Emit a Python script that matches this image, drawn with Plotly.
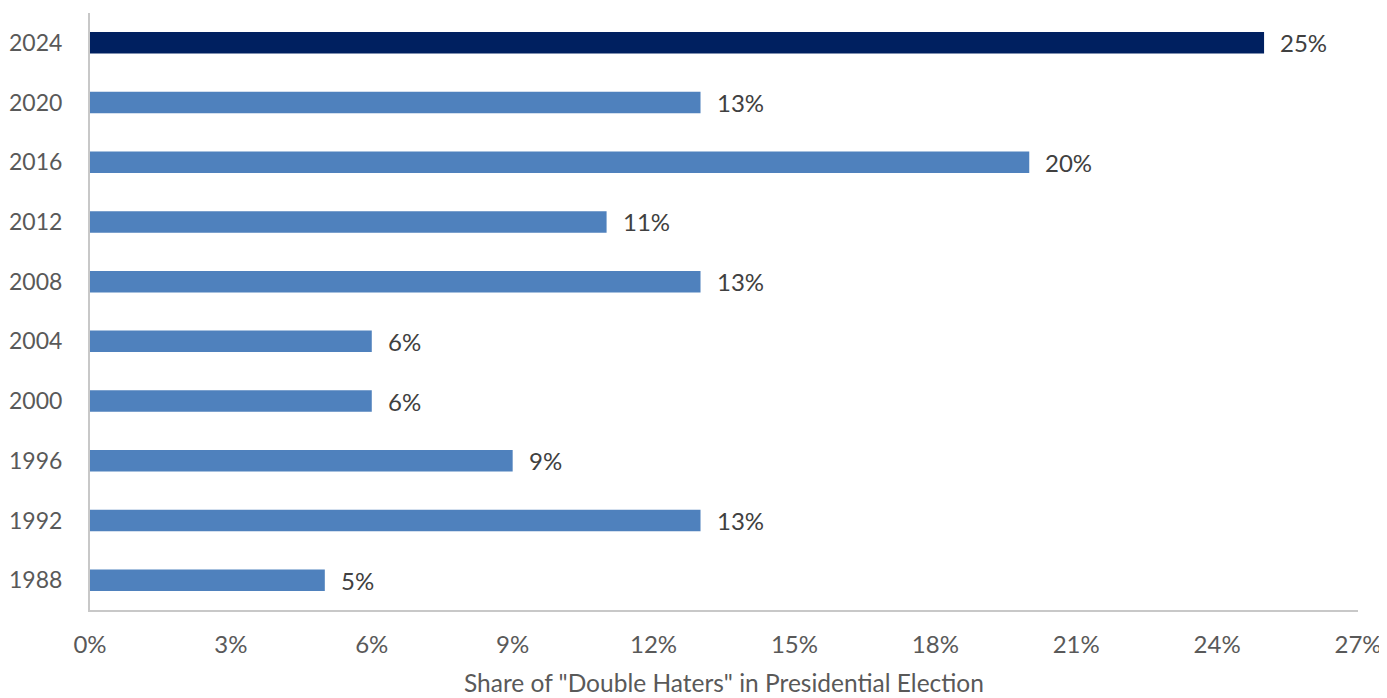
import plotly.graph_objects as go

years = ["1988", "1992", "1996", "2000", "2004", "2008", "2012", "2016", "2020", "2024"]
shares = [5, 13, 9, 6, 6, 13, 11, 20, 13, 25]
bar_colors = ["#4f81bd"] * 9 + ["#002060"]
tick_vals = [0, 3, 6, 9, 12, 15, 18, 21, 24, 27]
tick_text = [f"{v}%" for v in tick_vals]
x_title = 'Share of "Double Haters" in Presidential Election'

FONT = "Lato"

fig = go.Figure(go.Bar(
    x=shares, y=list(range(len(years))), orientation="h",
    marker=dict(color=bar_colors, line=dict(width=0)),
    width=0.36,
    hoverinfo="skip",
))

for i, v in enumerate(shares):
    fig.add_annotation(x=v, y=i, xref="x", yref="y", text=f"{v}%", showarrow=False,
                       xanchor="left", yanchor="middle", xshift=14,
                       font=dict(family=FONT, size=24, color="#404040"))

fig.add_annotation(x=0.5, y=-72 / 597, xref="paper", yref="paper", text=x_title,
                   showarrow=False, xanchor="center", yanchor="middle",
                   font=dict(family=FONT, size=24.5, color="#595959"))

# page body has an 8px default margin, so figure is sized/offset to compensate
fig.update_layout(
    width=1379, height=690,
    margin=dict(l=82, r=29, t=5, b=88),
    plot_bgcolor="white", paper_bgcolor="white",
    showlegend=False,
    font=dict(family=FONT, size=22, color="#595959"),
    xaxis=dict(range=[0, 27], tickvals=tick_vals, ticktext=tick_text,
               showgrid=False, zeroline=False, showline=True, automargin=False,
               linecolor="#c8c8c8", linewidth=2, ticks="", ticklabelstandoff=12,
               tickfont=dict(family=FONT, size=24, color="#595959")),
    yaxis=dict(range=[-0.5, 9.5], tickvals=list(range(len(years))), ticktext=years,
               showgrid=False, zeroline=False, showline=True, automargin=False,
               linecolor="#c8c8c8", linewidth=2, ticks="", ticklabelstandoff=21,
               tickfont=dict(family=FONT, size=23, color="#595959")),
)

fig.write_html("out.html")
